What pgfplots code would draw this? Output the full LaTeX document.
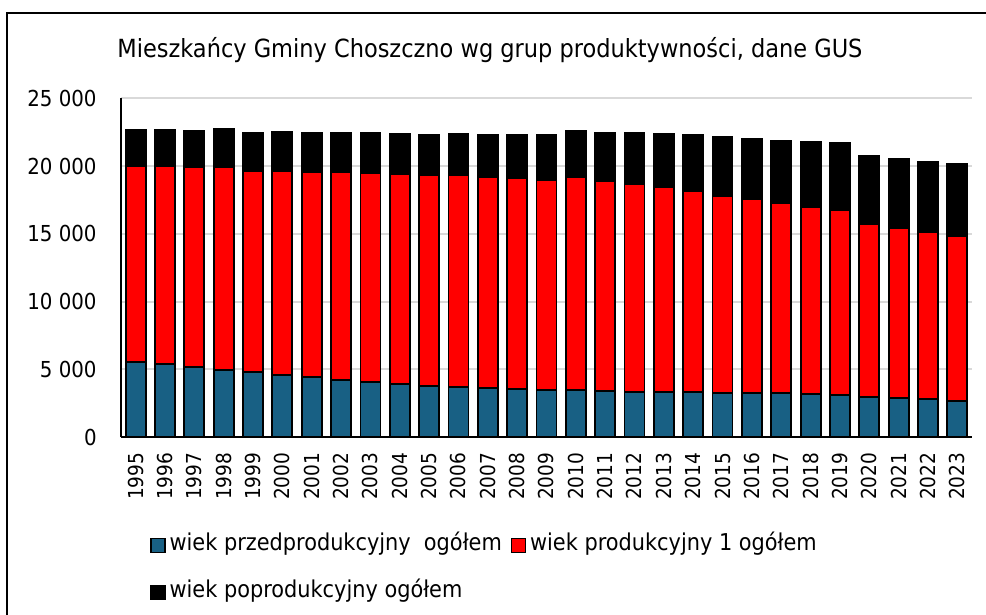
\documentclass[border=0pt]{standalone}
\usepackage{pgfplots}
\pgfplotsset{compat=1.18}
\usepackage{pgfplotstable}
\usepackage{fontspec}
\setmainfont{DejaVu Sans Condensed}
\definecolor{cblue}{RGB}{24,96,132}
\definecolor{cred}{RGB}{255,0,0}
\definecolor{cgrid}{RGB}{217,217,217}
\pgfplotstableread{
year a b c
1995 5580 14453 2630
1996 5408 14625 2630
1997 5187 14747 2680
1998 4990 14969 2753
1999 4818 14822 2802
2000 4621 15019 2851
2001 4424 15117 2876
2002 4252 15338 2876
2003 4105 15412 2925
2004 3933 15510 2949
2005 3810 15534 2975
2006 3736 15608 3048
2007 3638 15534 3122
2008 3589 15510 3220
2009 3515 15485 3269
2010 3515 15657 3392
2011 3392 15510 3540
2012 3368 15337 3737
2013 3368 15116 3908
2014 3343 14846 4130
2015 3294 14527 4326
2016 3245 14305 4449
2017 3245 14035 4596
2018 3195 13814 4769
2019 3122 13617 4941
2020 2999 12708 5014
2021 2925 12536 5088
2022 2802 12315 5186
2023 2679 12192 5285
}\data
\begin{document}
\begin{tikzpicture}
\begin{axis}[
  at={(60.5pt,88.85pt)}, anchor=south west,
  scale only axis, width=425.5pt, height=169.5pt,
  ybar stacked, bar width=10pt,
  xmin=1994.5, xmax=2023.5, ymin=0, ymax=25000,
  enlargelimits=false,
  scaled y ticks=false,
  axis x line*=bottom, axis y line*=left,
  x axis line style={line width=0.9pt, -},
  y axis line style={line width=0.7pt, -},
  major tick length=0pt,
  ytick={0,5000,10000,15000,20000,25000},
  yticklabels={0,5 000,10 000,15 000,20 000,25 000},
  yticklabel style={font=\fontsize{11}{13}\selectfont, anchor=east, inner sep=0pt, xshift=-12pt},
  xtick={1995,...,2023},
  xticklabels={1995,1996,1997,1998,1999,2000,2001,2002,2003,2004,2005,2006,2007,2008,2009,2010,2011,2012,2013,2014,2015,2016,2017,2018,2019,2020,2021,2022,2023},
  xticklabel style={font=\fontsize{10.3}{12}\selectfont, rotate=90, anchor=east, inner sep=0pt, xshift=-7.5pt},
  ymajorgrids, major grid style={draw=cgrid, line width=1pt},
  legend columns=2,
  legend cell align=left,
  legend style={at={(rel axis cs:0,0)}, anchor=west, xshift=14.5pt, yshift=-66pt,
    draw=none, fill=none, inner sep=0pt, row sep=13.5pt,
    font=\fontsize{11.6}{13}\selectfont,
    nodes={inner sep=0pt, text height=0.75em, text depth=0.25em},
    /tikz/every odd column/.append style={column sep=2pt},
    /tikz/every even column/.append style={column sep=4.5pt}},
  legend image code/.code={\draw[#1, draw=black, line width=0.6pt] (0pt,-3.5pt) rectangle (7pt,3.5pt);},
]
\addplot[fill=cblue, draw=black, line width=0.9pt] table[x=year, y=a] {\data};
\addlegendentry{wiek przedprodukcyjny\ \ ogółem}
\addplot[fill=cred, draw=black, line width=0.9pt] table[x=year, y=b] {\data};
\addlegendentry{wiek produkcyjny 1 ogółem}
\addplot[fill=black, draw=black, line width=0.9pt] table[x=year, y=c] {\data};
\addlegendentry{wiek poprodukcyjny ogółem}
\end{axis}
\node[anchor=base, font=\fontsize{12.5}{15}\selectfont] at (245pt,278.85pt) {Mieszkańcy Gminy Choszczno wg grup produktywności, dane GUS};
\draw[line width=1pt] (3.5pt,-2pt) -- (3.5pt,300.75pt) -- (495pt,300.75pt);
\pgfresetboundingbox
\path[use as bounding box] (0,0) rectangle (493pt,307.5pt);
\end{tikzpicture}
\end{document}
